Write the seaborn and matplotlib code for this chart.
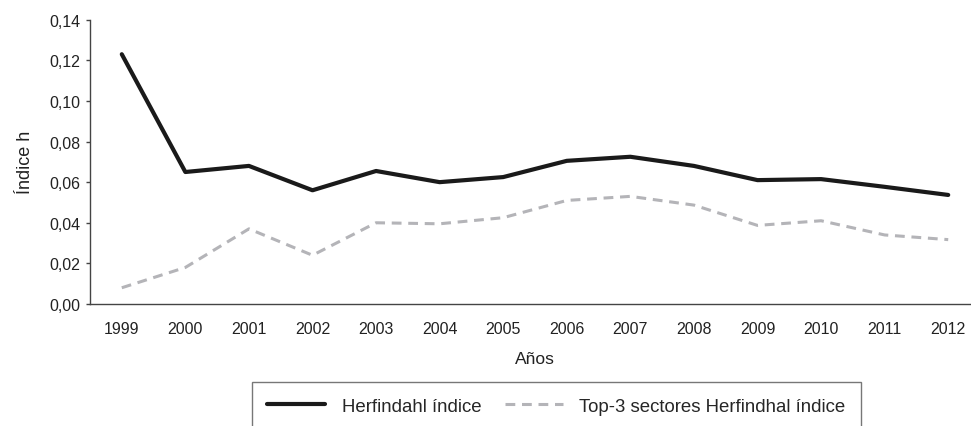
import pandas as pd
import matplotlib
matplotlib.use('Agg')
import matplotlib.pyplot as plt
import seaborn as sns
from matplotlib.ticker import FuncFormatter, MultipleLocator

# --- DATA ---
YEARS = [1999, 2000, 2001, 2002, 2003, 2004, 2005, 2006, 2007, 2008, 2009, 2010, 2011, 2012]
HERFINDAHL = [0.123, 0.065, 0.068, 0.056, 0.0655, 0.060, 0.0625, 0.0705, 0.0725, 0.068,
              0.061, 0.0615, 0.0577, 0.0537]
TOP3 = [0.008, 0.018, 0.037, 0.024, 0.040, 0.0395, 0.0425, 0.051, 0.053, 0.0487,
        0.0387, 0.041, 0.034, 0.0317]
LABEL_H = 'Herfindahl índice'
LABEL_TOP3 = 'Top-3 sectores Herfindhal índice'

sns.set_style('white')
plt.rcParams['font.family'] = ['Liberation Sans', 'DejaVu Sans']

fig = plt.figure(figsize=(9.71, 4.27), dpi=100)
ax = fig.add_axes([90 / 971, (427 - 305) / 427, 890 / 971, (305 - 20.7) / 427])

df = pd.DataFrame({'Año': YEARS, 'h': HERFINDAHL, 'top3': TOP3})
sns.lineplot(data=df, x='Año', y='h', ax=ax, color='#1a1a1a', linewidth=3.0,
             label=LABEL_H)
sns.lineplot(data=df, x='Año', y='top3', ax=ax, color='#b4b4b8', linewidth=2.2,
             label=LABEL_TOP3)
ax.lines[1].set_dashes([3.2, 2.2])

ax.set_xlim(YEARS[0] - 0.5, YEARS[-1] + 0.5)
ax.set_ylim(0, 0.14)
ax.set_xticks(YEARS)
ax.set_xticklabels([str(y) for y in YEARS])
ax.yaxis.set_major_locator(MultipleLocator(0.02))
ax.yaxis.set_major_formatter(FuncFormatter(lambda v, p: f'{v:.2f}'.replace('.', ',')))

for side in ['top', 'right']:
    ax.spines[side].set_visible(False)
for side in ['left', 'bottom']:
    ax.spines[side].set_color('#444444')
    ax.spines[side].set_linewidth(1.0)

ax.tick_params(axis='x', length=0, pad=12, labelsize=11.5, labelcolor='#222222')
ax.tick_params(axis='y', length=3, width=1, color='#444444', pad=4,
               labelsize=11.5, labelcolor='#222222', left=True)

ax.set_xlabel('Años', fontsize=12.5, color='#222222', labelpad=11)
ax.set_ylabel('Índice h', fontsize=13, color='#222222', labelpad=11)

ax.legend_.remove()
handles, labels = ax.get_legend_handles_labels()
leg = fig.legend(handles, labels, loc='upper center', ncol=2,
                 bbox_to_anchor=(556.5 / 971, 1 - 383 / 427),
                 fontsize=13.4, frameon=True, fancybox=False,
                 handlelength=3.1, handletextpad=0.9, columnspacing=1.25,
                 borderpad=0.85, borderaxespad=0)
leg.get_frame().set_edgecolor('#555555')
leg.get_frame().set_linewidth(1.0)

fig.savefig('out.png', dpi=100)
